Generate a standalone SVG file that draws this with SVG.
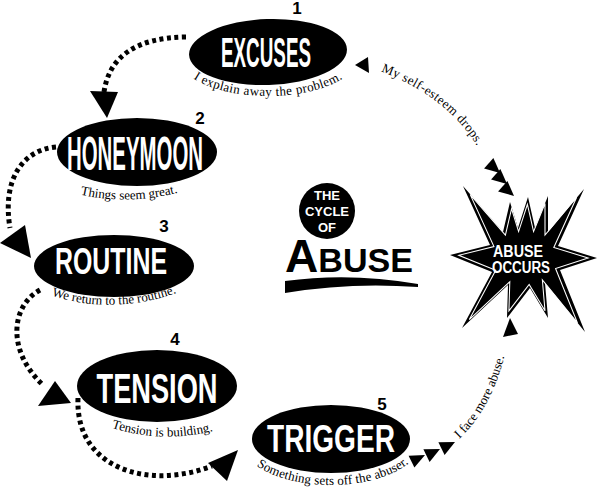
<svg xmlns="http://www.w3.org/2000/svg" width="600" height="501" viewBox="0 0 600 501">
<style>
.dot{fill:none;stroke:#000;stroke-width:5;stroke-dasharray:4 3.5}
.ell{fill:#000}
.head{font-family:"Liberation Sans",Arial,sans-serif;font-weight:bold;fill:#fff;text-anchor:middle}
.cap{font-family:"Liberation Serif","Times New Roman",serif;font-size:13px;fill:#000}
.num{font-family:"Liberation Sans",Arial,sans-serif;font-weight:bold;font-size:17px;text-anchor:middle;fill:#000}
.ah{fill:#000}
</style>
<defs>
<path id="pc1" d="M 183.4,69.7 A 90 40 0 0 0 352.6,69.7"/>
<path id="pc2" d="M 74,193 Q 128,207 184,191"/>
<path id="pc3" d="M 36,290 Q 112,321 192,287"/>
<path id="pc4" d="M 101,424 Q 160,447 224,428"/>
<path id="pc5" d="M 246.4,456 A 90 44 0 0 0 417.9,452.4"/>
<path id="pc6" d="M 457,441 Q 497,405 509,334"/>
<path id="pc7" d="M 377,70 Q 455,98 486,162"/>
</defs>
<rect width="600" height="501" fill="#fff"/>

<g id="connectors">
<path class="dot" d="M 186,37 Q 112,38 104,92"/>
<polygon class="ah" points="90,91 118,92 107,118"/>
<path class="dot" d="M 56,147 C 22,150 2,180 10,228"/>
<polygon class="ah" points="0,243 25,225 31,258"/>
<path class="dot" d="M 40,290 C 12,305 5,350 44,386"/>
<polygon class="ah" points="38,406 55,381 71,403"/>
<path class="dot" d="M 78,398 C 75,470 150,490 212,466"/>
<polygon class="ah" points="208,463 238,450 227,481"/>
<polygon class="ah" points="425,455 414.4,467.5 408.6,455.8"/>
<polygon class="ah" points="440,449 429.6,461.9 423.4,449.3"/>
<polygon class="ah" points="455,442 444.6,454.9 438.4,442.3"/>
<polygon class="ah" points="503,337 510,318 518,334"/>
<polygon class="ah" points="500,173 484.1,168.4 493.4,157.9"/>
<polygon class="ah" points="507,184 491.1,179.4 500.4,168.9"/>
<polygon class="ah" points="514,196 498.1,191.4 507.4,180.9"/>
<polygon class="ah" points="355,65 368,57 369,73"/>
<text class="cap"><textPath href="#pc6" startOffset="3">I face more abuse.</textPath></text>
<text class="cap"><textPath href="#pc7" startOffset="4" textLength="124" lengthAdjust="spacing">My self-esteem drops.</textPath></text>
</g>

<g id="node-excuses">
<ellipse class="ell" cx="268" cy="52" rx="79" ry="33" transform="rotate(-2 268 52)"/>
<text class="head" x="266" y="67" font-size="42" textLength="90" lengthAdjust="spacingAndGlyphs">EXCUSES</text>
<text class="num" x="297" y="14">1</text>
<text class="cap"><textPath href="#pc1" startOffset="50%" text-anchor="middle" textLength="155" lengthAdjust="spacing">I explain away the problem.</textPath></text>
</g>

<g id="node-honeymoon">
<ellipse class="ell" cx="137" cy="152" rx="80" ry="34"/>
<text class="head" x="135" y="170" font-size="48" textLength="136" lengthAdjust="spacingAndGlyphs">HONEYMOON</text>
<text class="num" x="200" y="124">2</text>
<text class="cap"><textPath href="#pc2" startOffset="50%" text-anchor="middle">Things seem great.</textPath></text>
</g>

<g id="node-routine">
<ellipse class="ell" cx="114" cy="266" rx="80" ry="31"/>
<text class="head" x="111" y="274" font-size="36" textLength="112" lengthAdjust="spacingAndGlyphs">ROUTINE</text>
<text class="num" x="164" y="232">3</text>
<text class="cap"><textPath href="#pc3" startOffset="50%" text-anchor="middle">We return to the routine.</textPath></text>
</g>

<g id="node-tension">
<ellipse class="ell" cx="157" cy="386" rx="80" ry="36"/>
<text class="head" x="157" y="403" font-size="42" textLength="121" lengthAdjust="spacingAndGlyphs">TENSION</text>
<text class="num" x="175" y="345">4</text>
<text class="cap"><textPath href="#pc4" startOffset="50%" text-anchor="middle">Tension is building.</textPath></text>
</g>

<g id="node-trigger">
<ellipse class="ell" cx="331" cy="439" rx="79" ry="34"/>
<text class="head" x="331" y="452" font-size="38" textLength="128" lengthAdjust="spacingAndGlyphs">TRIGGER</text>
<text class="num" x="382" y="410">5</text>
<text class="cap"><textPath href="#pc5" startOffset="50%" text-anchor="middle" textLength="160" lengthAdjust="spacing">Something sets off the abuser.</textPath></text>
</g>

<g id="node-abuse-occurs">
<polygon fill="#000" points="597,258 560,270 585,332 545,283 548,318 530,288 507,318 508,285 462,328 492,272 450,255 490,245 463,186 503,232 510,202 518,228 528,197 535,228 548,196 548,232 584,189 558,246"/>
<polygon fill="none" stroke="#fff" stroke-width="1.2" transform="translate(523 258) scale(0.88) translate(-523 -258)" points="597,258 560,270 585,332 545,283 548,318 530,288 507,318 508,285 462,328 492,272 450,255 490,245 463,186 503,232 510,202 518,228 528,197 535,228 548,196 548,232 584,189 558,246"/>
<text class="head" x="518" y="257" font-size="16" font-weight="normal" textLength="50" lengthAdjust="spacingAndGlyphs">ABUSE</text>
<text class="head" x="521" y="273" font-size="16" font-weight="normal" textLength="58" lengthAdjust="spacingAndGlyphs">OCCURS</text>
</g>

<g id="title">
<circle cx="327" cy="211" r="28" fill="#000"/>
<text class="head" x="327" y="200" font-size="13" font-weight="normal">THE</text>
<text class="head" x="327" y="216" font-size="13" font-weight="normal">CYCLE</text>
<text class="head" x="327" y="232" font-size="13" font-weight="normal">OF</text>
<text x="349" y="272" font-family="'Liberation Sans',Arial,sans-serif" font-weight="bold" fill="#000" text-anchor="middle" textLength="128" lengthAdjust="spacingAndGlyphs"><tspan font-size="46">A</tspan><tspan font-size="34">BUSE</tspan></text>
<path fill="#000" d="M 285,281 Q 350,272 418,284 L 418,287 Q 350,282 285,293 Z"/>
</g>
</svg>
